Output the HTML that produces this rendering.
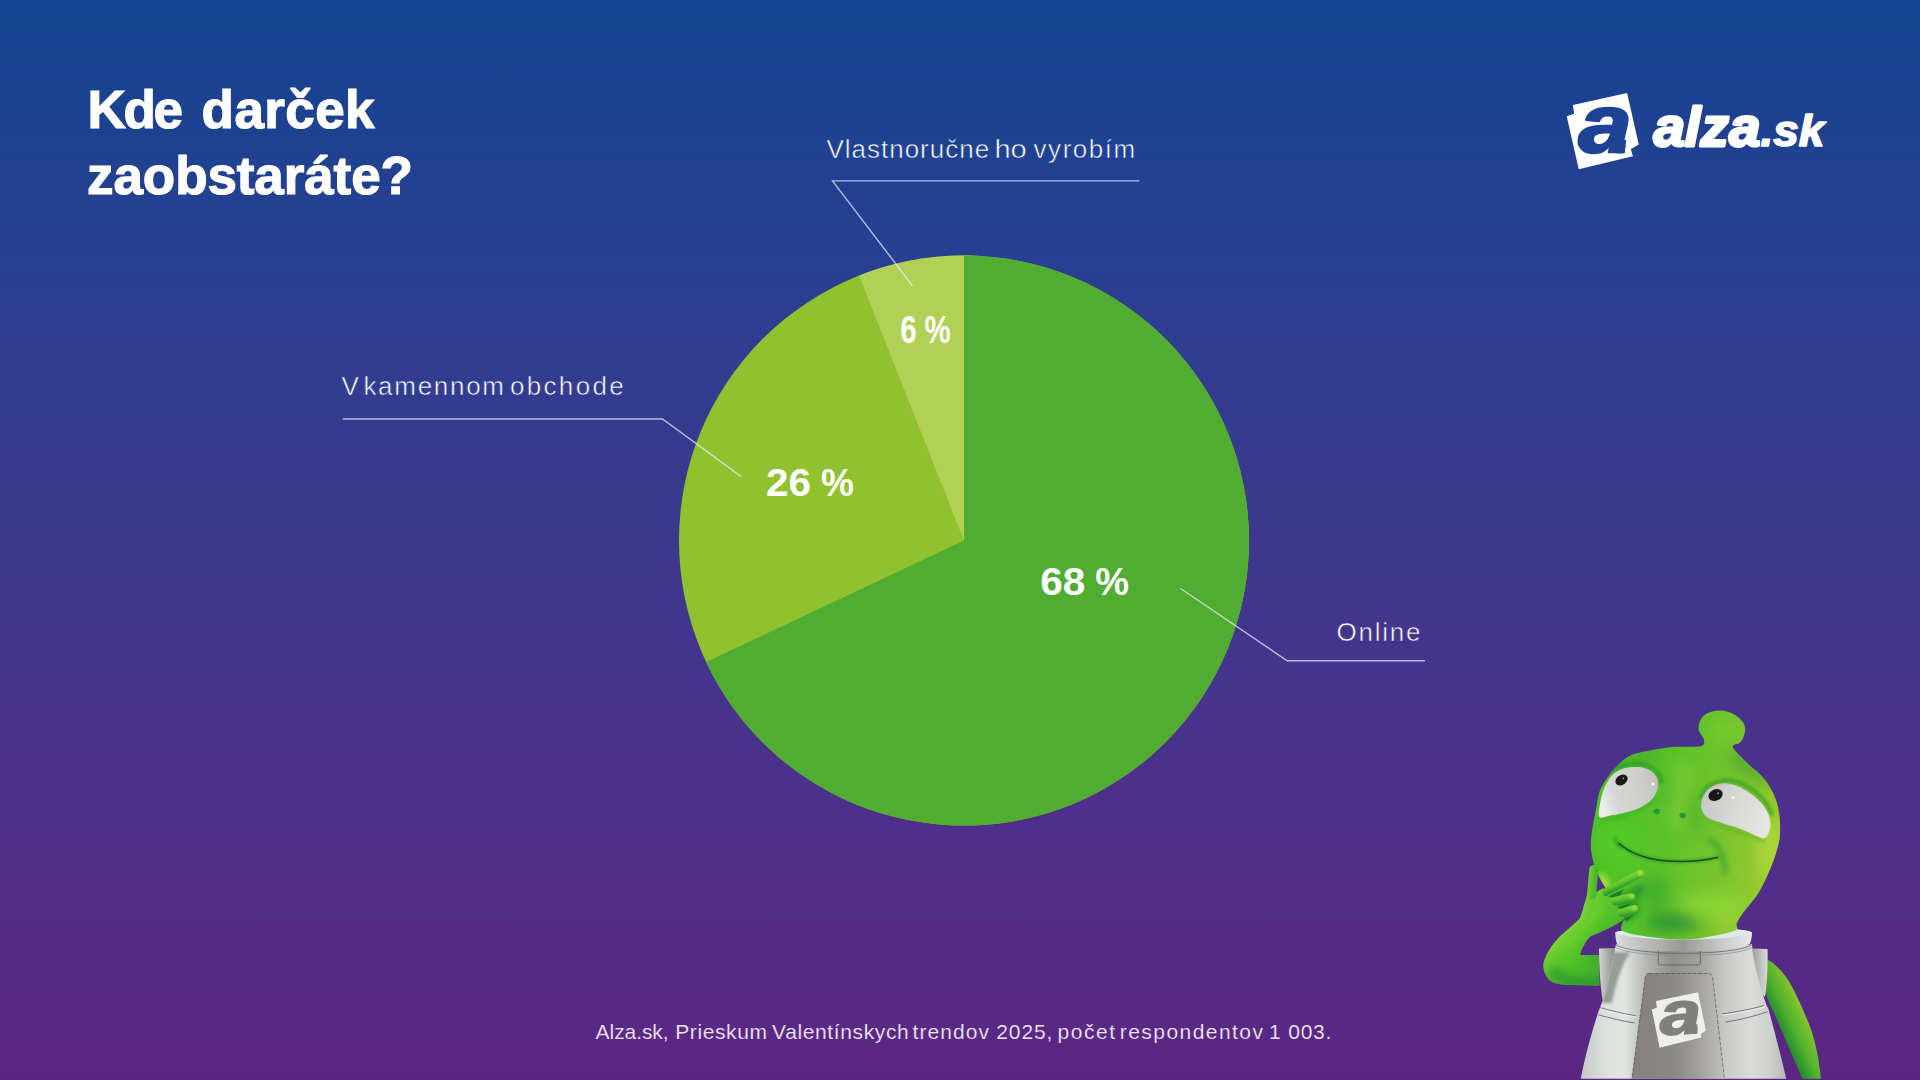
<!DOCTYPE html>
<html lang="sk">
<head>
<meta charset="utf-8">
<title>Kde darček zaobstaráte?</title>
<style>
html,body{margin:0;padding:0;width:1920px;height:1080px;overflow:hidden;background:#3D388D;}
body{font-family:"Liberation Sans",sans-serif;}
#stage{position:absolute;left:0;top:0;width:1920px;height:1080px;
background:linear-gradient(180deg,#12448F 0%,#2A3F92 25%,#3D388D 50%,#4D308C 75%,#5B2682 100%);}
svg{position:absolute;left:0;top:0;display:block;}
text{font-family:"Liberation Sans",sans-serif;}
.t{fill:#fff;font-weight:700;font-size:53px;stroke:#fff;stroke-width:1.2px;}
.lb{fill:#fff;font-size:26px;stroke:url(#bgG);stroke-width:.55px;}
.pc{fill:#fff;font-weight:700;font-size:38.8px;}
.ln{fill:none;stroke:#EFEDFF;stroke-opacity:.72;stroke-width:1.4;stroke-linejoin:miter;}
</style>
</head>
<body>
<div id="stage">
<svg width="1920" height="1080" viewBox="0 0 1920 1080">
<defs>
<linearGradient id="bgG" gradientUnits="userSpaceOnUse" x1="0" y1="0" x2="0" y2="1080"><stop offset="0" stop-color="#12448F"/><stop offset=".25" stop-color="#2A3F92"/><stop offset=".5" stop-color="#3D388D"/><stop offset=".75" stop-color="#4D308C"/><stop offset="1" stop-color="#5B2682"/></linearGradient>
<clipPath id="aclip"><polygon points="1570,100 1631.3,100 1624.6,153.2 1570,156"/></clipPath>
<!-- MDEFS -->
<filter id="b8" x="-60%" y="-60%" width="220%" height="220%"><feGaussianBlur stdDeviation="7"/></filter>
<filter id="b5" x="-60%" y="-60%" width="220%" height="220%"><feGaussianBlur stdDeviation="5"/></filter>
<filter id="b4" x="-60%" y="-60%" width="220%" height="220%"><feGaussianBlur stdDeviation="3.5"/></filter>
<filter id="b3" x="-60%" y="-60%" width="220%" height="220%"><feGaussianBlur stdDeviation="2.5"/></filter>
<filter id="b2" x="-60%" y="-60%" width="220%" height="220%"><feGaussianBlur stdDeviation="1.6"/></filter>
<filter id="b1" x="-60%" y="-60%" width="220%" height="220%"><feGaussianBlur stdDeviation="1.0"/></filter>
<filter id="b05" x="-60%" y="-60%" width="220%" height="220%"><feGaussianBlur stdDeviation="0.6"/></filter>
<path id="headP" d="M1700.7,746.3 C1705.5,745.1 1704.2,742.4 1703.8,739.5 C1703.4,736.6 1698.8,732.7 1698.5,729.0 C1698.2,725.3 1699.8,720.4 1702.0,717.5 C1704.2,714.6 1708.3,712.6 1712.0,711.5 C1715.7,710.4 1720.0,710.1 1724.0,710.8 C1728.0,711.5 1732.7,713.3 1736.0,715.5 C1739.3,717.7 1742.6,720.9 1744.0,724.0 C1745.4,727.1 1745.2,730.9 1744.5,734.0 C1743.8,737.1 1741.9,740.4 1740.0,742.6 C1738.1,744.9 1731.5,743.8 1733.0,747.5 C1734.5,751.2 1744.7,760.5 1749.3,765.0 C1753.9,769.5 1757.0,770.9 1760.4,774.6 C1763.9,778.3 1767.3,782.6 1770.0,787.2 C1772.7,791.8 1775.1,797.0 1776.7,802.0 C1778.3,807.0 1779.0,811.9 1779.6,816.9 C1780.1,821.9 1780.2,827.0 1780.0,831.7 C1779.8,836.4 1779.8,839.2 1778.3,845.0 C1776.8,850.8 1774.5,858.6 1771.2,866.5 C1768.0,874.4 1763.3,885.0 1758.8,892.5 C1754.2,900.0 1747.9,906.2 1744.2,911.2 C1740.5,916.3 1738.4,919.8 1736.8,923.0 C1735.2,926.2 1740.1,928.1 1734.8,930.5 C1729.5,932.9 1714.1,936.0 1705.0,937.5 C1695.9,939.0 1689.2,939.6 1680.0,939.5 C1670.8,939.4 1659.6,938.5 1650.0,937.0 C1640.4,935.5 1626.7,934.0 1622.3,930.5 C1617.9,927.0 1625.3,921.4 1623.6,916.0 C1621.9,910.6 1615.4,903.3 1612.0,898.0 C1608.6,892.7 1605.7,888.7 1603.0,884.0 C1600.3,879.3 1597.8,874.3 1596.0,870.0 C1594.2,865.7 1593.4,862.2 1592.5,858.0 C1591.6,853.8 1590.8,849.7 1590.8,845.0 C1590.8,840.3 1591.2,836.6 1592.2,830.0 C1593.2,823.4 1595.5,812.0 1596.7,805.6 C1597.9,799.2 1597.9,796.1 1599.6,791.5 C1601.3,786.9 1604.3,782.1 1607.0,778.0 C1609.7,773.9 1612.7,770.4 1616.0,767.0 C1619.3,763.6 1623.3,759.7 1627.0,757.4 C1630.7,755.1 1633.7,754.2 1638.0,753.0 C1642.3,751.8 1646.8,751.0 1653.0,750.0 C1659.2,749.0 1667.0,747.4 1675.0,746.8 C1683.0,746.2 1695.9,747.5 1700.7,746.3Z"/>
<clipPath id="headClip"><use href="#headP"/></clipPath>
<path id="eyeLP" d="M1599.3,816.7 C1598.0,814.4 1599.5,806.9 1600.4,801.9 C1601.3,796.9 1602.8,791.5 1604.8,787.0 C1606.8,782.5 1609.1,778.3 1612.2,775.2 C1615.3,772.1 1619.0,769.9 1623.3,768.5 C1627.6,767.1 1633.8,766.8 1638.1,767.0 C1642.4,767.2 1646.3,768.5 1649.3,770.0 C1652.3,771.5 1654.4,773.7 1655.9,775.9 C1657.4,778.1 1658.0,780.7 1658.1,783.3 C1658.2,785.9 1657.9,788.6 1656.7,791.5 C1655.5,794.4 1653.8,797.6 1650.7,800.4 C1647.6,803.2 1642.7,806.4 1638.1,808.5 C1633.5,810.6 1628.2,811.8 1623.3,813.0 C1618.4,814.2 1612.5,815.3 1608.5,815.9 C1604.5,816.5 1600.6,819.0 1599.3,816.7Z"/>
<path id="eyeRP" d="M1701.1,804.3 C1701.3,801.4 1702.5,797.5 1704.1,794.6 C1705.7,791.8 1707.9,789.1 1710.7,787.2 C1713.5,785.4 1717.1,783.9 1721.1,783.5 C1725.0,783.1 1730.0,783.6 1734.4,785.0 C1738.9,786.4 1743.5,788.9 1747.8,791.7 C1752.1,794.5 1757.1,798.4 1760.4,802.0 C1763.7,805.6 1766.1,809.4 1767.8,813.1 C1769.5,816.8 1770.3,821.0 1770.4,824.3 C1770.5,827.6 1769.5,830.8 1768.5,833.1 C1767.5,835.4 1766.1,837.8 1764.1,838.3 C1762.1,838.8 1760.4,837.6 1756.7,836.1 C1753.0,834.6 1747.5,831.5 1741.9,829.4 C1736.3,827.3 1728.9,825.4 1723.3,823.5 C1717.7,821.6 1712.0,820.3 1708.5,818.3 C1705.0,816.3 1703.8,814.0 1702.6,811.7 C1701.4,809.4 1700.8,807.1 1701.1,804.3Z"/>
<clipPath id="eyeLClip"><use href="#eyeLP"/></clipPath>
<clipPath id="eyeRClip"><use href="#eyeRP"/></clipPath>
<path id="armLP" d="M1599,955 L1580,955 C1582,948 1586,941 1590,936.7 C1600,932 1612,928 1623.3,920 C1626,917 1626,912 1623,908 C1621,903 1619,899 1614,895 C1610,891 1606,889 1603,888.5 C1601,889 1599,890 1597.5,891.7 C1594,893 1590,893 1587.5,892 C1586.5,897 1585.5,901 1584,905 C1583,910 1581.5,914 1580,918.3 C1574,925 1564,932 1558.3,938.3 C1553,944 1548.5,950 1545.8,956.7 C1544,960 1543,963.5 1543.3,966.7 C1543.8,973 1547,978.5 1551.7,981.7 C1558,984.5 1565,985 1571.7,985 L1599.5,985.8Z"/>
<clipPath id="armLClip"><use href="#armLP"/></clipPath>
<clipPath id="suitClip"><path d="M1616,944 C1640,951 1725,951 1752,944 C1753,960 1758,980 1766,1004 L1768.5,1009 C1774,1030 1781,1055 1786.5,1080 L1580.5,1080 C1586,1052 1593,1028 1599,1010 L1603,1000 C1608,980 1613,962 1616,944Z"/></clipPath>
<clipPath id="aclip2"><polygon points="-5,-45 42.6,-45 36.6,1.2 -5,3"/></clipPath>
<clipPath id="mascotClip"><rect x="1500" y="690" width="400" height="388.7"/></clipPath>
<linearGradient id="gArmR" gradientUnits="userSpaceOnUse" x1="1776" y1="1022" x2="1806" y2="1008"><stop offset="0" stop-color="#258A2E"/><stop offset=".4" stop-color="#4FB02D"/><stop offset="1" stop-color="#93CC2E"/></linearGradient>
<linearGradient id="gPadL" x1="0" y1="0" x2="1" y2="0"><stop offset="0" stop-color="#D0D3CF"/><stop offset="1" stop-color="#868985"/></linearGradient>
<linearGradient id="gPadR" x1="0" y1="0" x2="1" y2="0"><stop offset="0" stop-color="#9C9E9B"/><stop offset="1" stop-color="#DADCD9"/></linearGradient>
<linearGradient id="gSuit" gradientUnits="userSpaceOnUse" x1="1585" y1="0" x2="1785" y2="0"><stop offset="0" stop-color="#C9CDC9"/><stop offset=".1" stop-color="#DCE1DD"/><stop offset=".2" stop-color="#E0E5E1"/><stop offset=".31" stop-color="#B4B5B2"/><stop offset=".44" stop-color="#8F8F8C"/><stop offset=".58" stop-color="#A3A3A0"/><stop offset=".7" stop-color="#C8C8C6"/><stop offset=".83" stop-color="#DBDBD9"/><stop offset=".93" stop-color="#CFCFCD"/><stop offset="1" stop-color="#B9BAB8"/></linearGradient>
<linearGradient id="gPanel" gradientUnits="userSpaceOnUse" x1="1635" y1="0" x2="1725" y2="0"><stop offset="0" stop-color="#85827E"/><stop offset=".45" stop-color="#8B8885"/><stop offset=".75" stop-color="#A6A5A2"/><stop offset="1" stop-color="#C2C1BF"/></linearGradient>
<linearGradient id="gCollar" gradientUnits="userSpaceOnUse" x1="1615" y1="0" x2="1752" y2="0"><stop offset="0" stop-color="#DADDDB"/><stop offset=".2" stop-color="#BFC1BF"/><stop offset=".5" stop-color="#989896"/><stop offset=".8" stop-color="#CDCECD"/><stop offset="1" stop-color="#E6E9E8"/></linearGradient>
<linearGradient id="gHead" gradientUnits="userSpaceOnUse" x1="1595" y1="800" x2="1780" y2="835"><stop offset="0" stop-color="#4BC325"/><stop offset=".4" stop-color="#5CC32A"/><stop offset=".7" stop-color="#78C42D"/><stop offset="1" stop-color="#9CCB30"/></linearGradient>
<linearGradient id="gArmL" gradientUnits="userSpaceOnUse" x1="1550" y1="930" x2="1610" y2="980"><stop offset="0" stop-color="#76D331"/><stop offset=".5" stop-color="#50C029"/><stop offset="1" stop-color="#38A22B"/></linearGradient>
<linearGradient id="gEyeL" gradientUnits="userSpaceOnUse" x1="1600" y1="800" x2="1658" y2="785"><stop offset="0" stop-color="#EEF0EE"/><stop offset=".25" stop-color="#D6D7D5"/><stop offset=".75" stop-color="#CDCDCB"/><stop offset="1" stop-color="#C2C3C1"/></linearGradient>
<linearGradient id="gEyeR" gradientUnits="userSpaceOnUse" x1="1702" y1="800" x2="1770" y2="825"><stop offset="0" stop-color="#C6C6C3"/><stop offset=".45" stop-color="#D8D8D6"/><stop offset="1" stop-color="#E6E6E4"/></linearGradient>
<linearGradient id="gF0" gradientUnits="userSpaceOnUse" x1="1587" y1="880" x2="1598" y2="881"><stop offset="0" stop-color="#74D432"/><stop offset="1" stop-color="#3FAE2C"/></linearGradient>
<linearGradient id="gF1" gradientUnits="userSpaceOnUse" x1="1620" y1="878" x2="1624" y2="887"><stop offset="0" stop-color="#8BDD36"/><stop offset=".55" stop-color="#58C02C"/><stop offset="1" stop-color="#2E962C"/></linearGradient>
<linearGradient id="gF2" gradientUnits="userSpaceOnUse" x1="1622" y1="894" x2="1624" y2="904"><stop offset="0" stop-color="#86DB35"/><stop offset=".55" stop-color="#55BE2C"/><stop offset="1" stop-color="#2C922C"/></linearGradient>
<linearGradient id="gF3" gradientUnits="userSpaceOnUse" x1="1627" y1="906" x2="1629" y2="916"><stop offset="0" stop-color="#86DB35"/><stop offset=".55" stop-color="#52BA2C"/><stop offset="1" stop-color="#2A8E2C"/></linearGradient>
<!-- /MDEFS -->
</defs>

<!-- title -->
<text class="t" y="128" lengthAdjust="spacingAndGlyphs"><tspan x="87.6" textLength="95.3">Kde</tspan> <tspan x="201.6" textLength="173">darček</tspan></text>
<text class="t" x="87.1" y="194" textLength="325.8" lengthAdjust="spacing">zaobstaráte?</text>

<!-- logo -->
<g id="logo">
<polygon points="1572.9,105 1627.1,92.9 1638.75,144.6 1630.8,149.2 1632.9,156.25 1578.75,169.2 1566.7,116.25 1574.2,113.75" fill="#fff"/>
<g clip-path="url(#aclip)"><text x="0" y="0" transform="translate(1578.6,151.8) scale(1.17,1)" font-size="82" font-weight="700" font-style="italic" fill="#1D4494" stroke="#1D4494" stroke-width="2.5" stroke-linejoin="round">a</text>
<polygon points="1610,140 1626.4,140 1624.6,153.2 1607.7,153.2" fill="#1D4494"/></g>
<text x="1653.4" y="145.9" font-size="55" font-weight="700" font-style="italic" fill="#fff" stroke="#fff" stroke-width="2.8" stroke-linejoin="round" textLength="107" lengthAdjust="spacingAndGlyphs">alza</text>
<text x="1760.4" y="146.4" font-size="43.5" font-weight="700" font-style="italic" fill="#fff" stroke="#fff" stroke-width="1.6" stroke-linejoin="round" textLength="64" lengthAdjust="spacingAndGlyphs">.sk</text>
</g>

<!-- pie -->
<g id="pie">
<circle cx="964" cy="540.6" r="285" fill="#90C12E"/>
<path d="M964 540.6L859.08 275.61A285 285 0 0 1 973.95 255.77Z" fill="#B0D156"/>
<path d="M964 540.6L964.00 255.60A285 285 0 1 1 706.12 661.95Z" fill="#50AD32"/>
</g>

<!-- leader lines -->
<polyline class="ln" points="1139.4,180.9 832.5,180.9 912.5,285.8"/>
<polyline class="ln" points="342.8,419 662.5,419 741.25,476.6"/>
<polyline class="ln" points="1180.6,588.5 1287.2,660.75 1425,660.75"/>

<!-- labels -->
<text class="lb" y="157.7"><tspan x="826.5" textLength="162.6">Vlastnoručne</tspan> <tspan x="994.4" textLength="32.4" lengthAdjust="spacingAndGlyphs">ho</tspan> <tspan x="1033.6" textLength="101.6">vyrobím</tspan></text>
<text class="lb" y="395"><tspan x="341.5">V</tspan> <tspan x="363.4" textLength="140.6">kamennom</tspan> <tspan x="509.9" textLength="113.8">obchode</tspan></text>
<text class="lb" x="1336.5" y="640.5" textLength="84" lengthAdjust="spacing">Online</text>

<!-- percentages -->
<text class="pc" transform="translate(900.3,342.6) scale(0.76,1)">6 <tspan x="32">%</tspan></text>
<text class="pc" y="496.4"><tspan x="766" textLength="45" lengthAdjust="spacingAndGlyphs">26</tspan> <tspan x="821" textLength="33" lengthAdjust="spacingAndGlyphs">%</tspan></text>
<text class="pc" y="595.2"><tspan x="1040.2" textLength="45" lengthAdjust="spacingAndGlyphs">68</tspan> <tspan x="1095.2" textLength="33.8" lengthAdjust="spacingAndGlyphs">%</tspan></text>

<!-- footer -->
<text y="1039.2" font-size="21" fill="#F1E7F6" stroke="url(#bgG)" stroke-width=".15" lengthAdjust="spacing"><tspan x="595.6" textLength="73">Alza.sk,</tspan> <tspan x="675.2" textLength="91.8">Prieskum</tspan> <tspan x="772.1" textLength="136.6">Valentínskych</tspan> <tspan x="912.5" textLength="76.5">trendov</tspan> <tspan x="996.2" textLength="56.2">2025,</tspan> <tspan x="1057.5" textLength="57.5">počet</tspan> <tspan x="1119.8" textLength="143.2">respondentov</tspan> <tspan x="1269">1</tspan> <tspan x="1288.3" textLength="43">003.</tspan></text>

<!-- MASCOT -->
<g id="mascot" clip-path="url(#mascotClip)">
<!-- right arm (behind body) -->
<path d="M1767.5,960 C1774,962 1784,973 1790,983.3 C1797,995 1805,1014 1810,1026.7 C1815,1040 1819,1058 1821,1080 L1803,1080 C1797,1066 1792,1055 1788.3,1046.7 C1783,1033 1776,1017 1771.7,1008.3 C1768,1001 1764,990 1764,980 Z" fill="url(#gArmR)"/>
<!-- shoulder pads -->
<path d="M1599,948.6 L1616,948 L1610,1000 L1603,1002.6 C1600,985 1599,965 1599,948.6Z" fill="url(#gPadL)"/>
<path d="M1752,948.6 L1767.5,949 C1768,965 1767,985 1765,997 L1757,990 Z" fill="url(#gPadR)"/>
<!-- suit torso -->
<path d="M1616,944 C1640,951 1725,951 1752,944 C1753,960 1758,980 1766,1004 L1768.5,1009 C1774,1030 1781,1055 1786.5,1080 L1580.5,1080 C1586,1052 1593,1028 1599,1010 L1603,1000 C1608,980 1613,962 1616,944Z" fill="url(#gSuit)"/>
<path d="M1613,952 C1609,975 1605,990 1602,1003 L1612,1003 C1615,985 1622,965 1630,952Z" fill="#7E847E" opacity=".75" filter="url(#b2)" clip-path="url(#suitClip)"/>
<!-- centre panel -->
<path d="M1649.5,973.5 L1708,973.5 Q1712,973.5 1712.6,977.5 L1724.6,1080 L1631.7,1080 L1645.2,977.5 Q1645.7,973.5 1649.5,973.5Z" fill="url(#gPanel)" stroke="#2a2a2a" stroke-width="0.6" stroke-dasharray="4 1.4" stroke-opacity=".8"/>
<!-- buckle -->
<path d="M1658.3,946.5 L1658.3,963 Q1658.3,965 1660.3,965 L1698.4,965 Q1700.4,965 1700.4,963 L1700.4,946.5" fill="none" stroke="#55585a" stroke-width="0.7"/>
<path d="M1659,953.6 L1700,953.6" stroke="#6b6e70" stroke-width="0.6" fill="none"/>
<!-- belt lines -->
<path d="M1600,1007.7 C1612,1011 1625,1014 1636,1015.8 M1598.5,1014.8 C1610,1018 1622,1021 1634.5,1023" stroke="#5d605f" stroke-width="0.8" fill="none"/>
<path d="M1600.5,1009 C1612,1012.5 1625,1015.3 1636,1017" stroke="#f4f6f4" stroke-width="1" fill="none" opacity=".8"/>
<path d="M1722.5,1013.8 C1737,1012 1752,1009 1764,1005.6 M1725.5,1022 C1740,1020 1755,1016 1767.5,1011.8" stroke="#5d605f" stroke-width="0.8" fill="none"/>
<path d="M1723,1015.2 C1737,1013.4 1752,1010.4 1765,1007" stroke="#f4f6f4" stroke-width="1" fill="none" opacity=".8"/>
<!-- badge -->
<polygon points="1651.8,1009.4 1656.9,1007.5 1655.9,1001 1698,992.2 1705.9,1030.6 1700.8,1033.9 1701.3,1037.6 1659.6,1047.8" fill="#EEEEEC"/>
<g transform="translate(1660.6,1035.2) rotate(-4)"><g clip-path="url(#aclip2)"><text x="0" y="0" transform="scale(1.27,1)" font-size="60" font-weight="700" font-style="italic" fill="#807F7C" stroke="#807F7C" stroke-width="1.6" stroke-linejoin="round">a</text><polygon points="25,-8.3 38,-8.3 36.5,1.2 23.2,1.2" fill="#807F7C"/></g></g>
<!-- collar -->
<path d="M1615.2,932.5 C1630,926 1738,926 1752,932.3 C1752,937 1751,941 1749.9,943.7 C1735,953.5 1632,953.5 1617.2,944.2 C1616,941 1615.2,937 1615.2,932.5Z" fill="url(#gCollar)"/>
<path d="M1615.2,932.5 C1630,925.5 1738,925.5 1752,932.3 C1738,942 1630,942 1615.2,932.5Z" fill="#DCEBEA"/>
<path d="M1616,945 C1635,956 1733,956 1751.5,945" stroke="#6f7272" stroke-width="0.9" fill="none"/>
<path d="M1615.8,947.5 C1635,958.5 1733,958.5 1752,947.5" stroke="#8a8d8c" stroke-width="0.7" fill="none"/>
<!-- head + neck -->
<use href="#headP" fill="url(#gHead)"/>
<g clip-path="url(#headClip)">
<g filter="url(#b8)">
<ellipse cx="1770" cy="850" rx="13" ry="32" fill="#AAD63A" opacity="0.9"/>
<ellipse cx="1681" cy="795" rx="12" ry="36" fill="#86CF36" opacity="0.55" transform="rotate(5 1681 795)"/>
<ellipse cx="1618" cy="845" rx="22" ry="20" fill="#55D026" opacity="0.55"/>
<ellipse cx="1715" cy="905" rx="34" ry="13" fill="#8AD631" opacity="0.85"/>
<ellipse cx="1752" cy="768" rx="28" ry="9" fill="#3A9E30" opacity="0.6" transform="rotate(32 1752 768)"/>
<ellipse cx="1636" cy="760" rx="28" ry="7" fill="#3FA030" opacity="0.55" transform="rotate(-22 1636 760)"/>
<ellipse cx="1725" cy="732" rx="16" ry="10" fill="#7ED433" opacity="0.5"/>
<ellipse cx="1655" cy="893" rx="14" ry="18" fill="#2C9C34" opacity="0.5"/>
<ellipse cx="1672" cy="923" rx="27" ry="10" fill="#239032" opacity="0.85"/>
<ellipse cx="1727" cy="922" rx="9" ry="12" fill="#A2D034" opacity="0.7"/>
<ellipse cx="1693" cy="812" rx="7" ry="22" fill="#379F2F" opacity="0.45"/>
<ellipse cx="1668" cy="790" rx="7" ry="20" fill="#3FA52E" opacity="0.35"/>
</g>
<path d="M1710,840 C1717,845 1722,853 1723.5,861 C1724.5,866 1725,869 1724.8,872" stroke="#2C9C30" stroke-width="5" fill="none" opacity=".6" filter="url(#b3)" stroke-linecap="round"/>
<path d="M1615,838 C1616,842 1618,845 1621,847" stroke="#2C9C30" stroke-width="4" fill="none" opacity=".6" filter="url(#b2)" stroke-linecap="round"/>
<g filter="url(#b2)" fill="none" stroke-linecap="round">
<path d="M1606,777 C1614,766 1630,761.5 1645,764.5 C1654,767 1660,773 1661.5,782" stroke="#2F9A2E" stroke-width="4" opacity=".75"/>
<path d="M1701,797 C1706,783 1722,778 1738,782 C1752,787 1766,799 1772,814" stroke="#2F9A2E" stroke-width="4" opacity=".7"/>
<path d="M1601,819.5 C1620,818 1642,812 1656,799" stroke="#3DA82D" stroke-width="3" opacity=".6"/>
<path d="M1703,816 C1720,827 1745,833 1764,841.5" stroke="#5FAE2C" stroke-width="3" opacity=".6"/>
</g>
</g>
<!-- eyes -->
<use href="#eyeLP" fill="url(#gEyeL)"/>
<g clip-path="url(#eyeLClip)"><path d="M1598,822 C1610,822 1640,815 1662,796 L1662,825Z" fill="#9FA19F" opacity=".55" filter="url(#b2)"/><path d="M1606,777 C1614,766 1630,761.5 1645,764.5 C1654,767 1660,773 1661.5,782" stroke="#6F8F6A" stroke-width="2.5" fill="none" opacity=".5" filter="url(#b1)"/></g>
<ellipse cx="1621.5" cy="780" rx="6.7" ry="4.9" transform="rotate(-35 1621.5 780)" fill="#1a1a1a"/>
<circle cx="1623.2" cy="778.3" r="0.9" fill="#9a9a9a"/>
<circle cx="1653" cy="784" r="1.2" fill="#fff"/>
<use href="#eyeRP" fill="url(#gEyeR)"/>
<g clip-path="url(#eyeRClip)"><path d="M1700,812 C1715,824 1745,832 1766,842 L1700,842Z" fill="#A9ABA9" opacity=".5" filter="url(#b2)"/><path d="M1701,797 C1706,783 1722,779.5 1738,783.5 C1752,788 1766,800 1772,815" stroke="#6F8F6A" stroke-width="2.5" fill="none" opacity=".5" filter="url(#b1)"/></g>
<ellipse cx="1715.6" cy="795" rx="7.4" ry="5.6" transform="rotate(-25 1715.6 795)" fill="#171717"/>
<circle cx="1718.2" cy="793.2" r="1" fill="#9a9a9a"/>
<circle cx="1733" cy="797.6" r="1.2" fill="#fff"/>
<!-- nostrils -->
<ellipse cx="1656.7" cy="811.5" rx="3.2" ry="2.8" fill="#1F9636" opacity=".85" filter="url(#b05)"/>
<ellipse cx="1682.6" cy="815.6" rx="3.2" ry="2.8" fill="#1F9636" opacity=".85" filter="url(#b05)"/>
<!-- mouth -->
<path d="M1619,843.5 C1630,853 1645,858.5 1662,860.5 C1682,862.5 1702,861 1717.4,857.4" fill="none" stroke="#2B8A2B" stroke-width="4" stroke-linecap="round" opacity=".5" filter="url(#b1)"/>
<path d="M1619,843.5 C1630,853 1645,858.5 1662,860.5 C1682,862.5 1702,861 1717.4,857.4" fill="none" stroke="#174d1a" stroke-width="1.5" stroke-linecap="round"/>
<!-- left arm (front) -->
<use href="#armLP" fill="url(#gArmL)"/>
<g clip-path="url(#armLClip)" filter="url(#b4)">
<path d="M1547,975 C1560,992 1590,992 1601,990 L1601,976 C1585,979 1565,975 1555,965Z" fill="#2E9A2E" opacity=".75"/>
<path d="M1583,953 C1590,940 1610,930 1625,925 L1640,914 L1640,927 C1620,937 1600,947 1597,958Z" fill="#2E9A2E" opacity=".7"/>
<path d="M1546,958 C1554,942 1568,930 1580,920 L1585,903 L1578,903 C1570,925 1548,940 1541,960Z" fill="#9BE43C" opacity=".8"/>
<path d="M1560,950 C1572,940 1590,925 1600,905" stroke="#7FDB35" stroke-width="6" fill="none" opacity=".55"/>
</g>
<!-- fingers -->
<g clip-path="url(#headClip)"><ellipse cx="1604" cy="881" rx="5" ry="9" fill="#A6DF3C" opacity=".9" filter="url(#b3)" transform="rotate(-25 1604 881)"/>
<path d="M1612,899 L1642,882 L1644,890 L1638,900 L1641,913 L1630,921 L1622,922Z" fill="#1F8A30" opacity=".65" filter="url(#b3)"/></g>
<path d="M1608,896.5 L1624,889 L1618,899Z M1617,907.5 L1630,903.5 L1624,910Z M1623,919 L1634,914.5 L1627,921Z" fill="#1C7428" opacity=".9" filter="url(#b05)"/>
<g stroke-linecap="round" fill="none">
<path d="M1622,912.6 L1634.3,909.3" stroke="url(#gF3)" stroke-width="8.2"/>
<path d="M1615,901.2 L1630.8,897.6" stroke="url(#gF2)" stroke-width="8.4"/>
<path d="M1606,892.2 L1639.7,873.8" stroke="url(#gF1)" stroke-width="7.6"/>
<path d="M1591.6,895 L1593.8,869.6" stroke="url(#gF0)" stroke-width="9.2"/>
</g>
<ellipse cx="1640.5" cy="873" rx="3" ry="2.6" fill="#B4E63E" opacity=".85" filter="url(#b1)"/>
<ellipse cx="1631.5" cy="896" rx="3" ry="2.4" fill="#A6E03A" opacity=".8" filter="url(#b1)"/>
<ellipse cx="1634.5" cy="908.2" rx="3" ry="2.4" fill="#A6E03A" opacity=".8" filter="url(#b1)"/>
</g>
</svg>
</div>
</body>
</html>
